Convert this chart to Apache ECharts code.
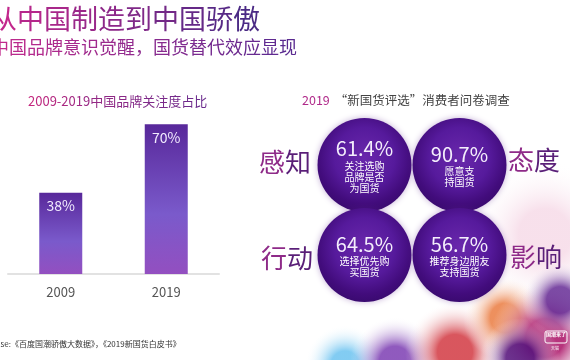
<!DOCTYPE html>
<html><head><meta charset="utf-8">
<script src="https://cdn.jsdelivr.net/npm/echarts@6/dist/echarts.min.js"></script>
<style>html,body{margin:0;padding:0;background:#fff}#c{width:570px;height:360px}</style>
</head><body><div id="c"></div>
<script>
const barCategories = ['2009', '2019'];
const barValues = [38, 70];
const surveyCols = ['左', '右'];
const surveyRows = ['上', '下'];
const surveyValues = [61.4, 90.7, 64.5, 56.7];
const surveyTexts = ['关注选购\n品牌是否\n为国货', '愿意支\n持国货', '选择优先购\n买国货', '推荐身边朋友\n支持国货'];
const surveyCells = [[0, 0], [1, 0], [0, 1], [1, 1]];
const sideLabels = ['感知', '态度', '行动', '影响'];
const mainTitle = '从中国制造到中国骄傲';
const subTitle = '中国品牌意识觉醒，国货替代效应显现';
const barTitle = '2009-2019中国品牌关注度占比';
const surveyTitleYear = '2019';
const surveyTitleRest = ' “新国货评选”消费者问卷调查';
const sourceText = 'Database:《百度国潮骄傲大数据》，《2019新国货白皮书》';

const FONT = '"Noto Sans CJK SC", "Noto Sans", sans-serif';
const FAM = 'Noto Sans CJK SC';
const chart = echarts.init(document.getElementById('c'), null, {renderer: 'canvas'});
const G = echarts.graphic;

function hex(c) { return [parseInt(c.substr(1, 2), 16), parseInt(c.substr(3, 2), 16), parseInt(c.substr(5, 2), 16)]; }
function mix(a, b, t) {
  const A = hex(a), B = hex(b);
  return 'rgb(' + A.map(function (v, i) { return Math.round(v + (B[i] - v) * t); }).join(',') + ')';
}
function gradText(str, c0, c1, size, weight) {
  const chars = Array.from(str);
  const rich = {};
  let text = '';
  chars.forEach(function (ch, i) {
    const k = 'c' + i;
    rich[k] = {fill: mix(c0, c1, chars.length > 1 ? i / (chars.length - 1) : 0), fontSize: size, fontFamily: FAM, fontWeight: weight || 'normal'};
    text += '{' + k + '|' + ch + '}';
  });
  return {text: text, rich: rich, fontSize: size, fontFamily: FAM};
}
function blob(cx, cy, r, color, op) {
  return {type: 'circle', shape: {cx: cx, cy: cy, r: r}, z: -10, silent: true,
    style: {fill: new G.RadialGradient(0.5, 0.5, 0.5, [
      {offset: 0, color: color}, {offset: 0.35, color: color}, {offset: 1, color: 'rgba(255,255,255,0)'}]), opacity: op}};
}
const sidePos = [[285, 162], [534, 160], [287, 258], [536, 257]];
const graphics = [
  blob(545, 235, 75, 'rgba(238,185,210,0.55)', 0.8),
  blob(345, 365, 40, 'rgba(60,175,235,0.8)', 0.8),
  blob(395, 362, 45, 'rgba(110,40,170,0.9)', 0.85),
  blob(455, 352, 50, 'rgba(205,35,45,0.9)', 0.85),
  blob(505, 318, 42, 'rgba(232,110,45,0.9)', 0.85),
  blob(545, 338, 55, 'rgba(175,30,110,0.95)', 0.95),
  blob(560, 300, 38, 'rgba(95,35,145,0.9)', 0.9),
  blob(520, 358, 40, 'rgba(85,20,125,0.95)', 0.9),
  {type: 'text', left: -10, top: 5, style: gradText(mainTitle, '#c2278c', '#4b2a85', 27)},
  {type: 'text', left: -9, top: 38, style: gradText(subTitle, '#c02a8c', '#5a2a90', 18)},
  {type: 'text', left: 28, top: 95, style: gradText(barTitle, '#c4287e', '#6a2a8c', 13)},
  {type: 'text', left: 302, top: 94, style: {text: surveyTitleYear, fontSize: 12.5, fontFamily: FAM, fill: '#b02a8a'}},
  {type: 'text', left: 332, top: 94, style: {text: surveyTitleRest, fontSize: 12.5, fontFamily: FAM, fill: '#444'}},
  {type: 'text', left: -26, top: 340, style: {text: sourceText, fontSize: 8, fontFamily: FAM, fill: '#333'}},
  {type: 'rect', shape: {x: 545, y: 331, width: 22, height: 12, r: 2}, style: {fill: 'none', stroke: '#fff', lineWidth: 1}},
  {type: 'text', left: 546, top: 332, style: {text: '国潮来了', fontSize: 5, fontWeight: 'bold', fontFamily: FAM, fill: '#fff'}},
  {type: 'text', left: 551, top: 346, style: {text: '天猫', fontSize: 4, fontFamily: FAM, fill: '#fff'}}
];
sideLabels.forEach(function (t, i) {
  const s = gradText(t, '#8e2a88', '#5a1f78', 26);
  s.align = 'center'; s.verticalAlign = 'middle';
  graphics.push({type: 'text', x: sidePos[i][0], y: sidePos[i][1], style: s});
});

const option = {
  backgroundColor: '#fff',
  animation: false,
  graphic: graphics,
  grid: [
    {left: 8, right: 351, top: 60, bottom: 86},
    {left: 317, width: 190, top: 120, height: 180}
  ],
  xAxis: [
    {type: 'category', gridIndex: 0, data: barCategories,
      axisLine: {lineStyle: {color: '#e2e2e2', width: 2}}, axisTick: {show: false},
      axisLabel: {color: '#555', fontSize: 13, fontFamily: FONT, margin: 12}},
    {type: 'category', gridIndex: 1, data: surveyCols, show: false}
  ],
  yAxis: [
    {type: 'value', gridIndex: 0, min: 0, max: 100, show: false, splitLine: {show: false}},
    {type: 'category', gridIndex: 1, data: surveyRows, inverse: true, show: false}
  ],
  series: [
    {type: 'bar', xAxisIndex: 0, yAxisIndex: 0, data: barValues, barWidth: 43,
      itemStyle: {color: new G.LinearGradient(0, 0, 0, 1, [
        {offset: 0, color: '#58289a'}, {offset: 0.6, color: '#7a5acb'}, {offset: 1, color: '#934fc0'}])},
      label: {show: true, position: 'insideTop', distance: 6, formatter: '{c}%', color: '#f2ecff', fontSize: 14, fontFamily: FONT}},
    {type: 'scatter', xAxisIndex: 1, yAxisIndex: 1, symbol: 'circle', symbolSize: 94, z: 5,
      data: surveyCells,
      itemStyle: {opacity: 1, color: new G.RadialGradient(0.5, 0.42, 0.58, [
        {offset: 0, color: '#6a28ac'}, {offset: 0.55, color: '#561a9c'}, {offset: 0.85, color: '#420c7c'}, {offset: 1, color: '#3a0a70'}]),
        shadowBlur: 6, shadowColor: 'rgba(90,30,140,0.35)'},
      emphasis: {disabled: true},
      label: {show: true, position: 'inside', fontFamily: FONT,
        formatter: function (p) { return '{v|' + surveyValues[p.dataIndex].toFixed(1) + '%}\n{t|' + surveyTexts[p.dataIndex].split('\n').join('}\n{t|') + '}'; },
        rich: {v: {fontSize: 20, color: '#f4eefc', fontFamily: FONT, lineHeight: 24},
               t: {fontSize: 10, color: '#fff', fontFamily: FONT, lineHeight: 11}}}}
  ]
};
chart.setOption(option);
</script></body></html>
